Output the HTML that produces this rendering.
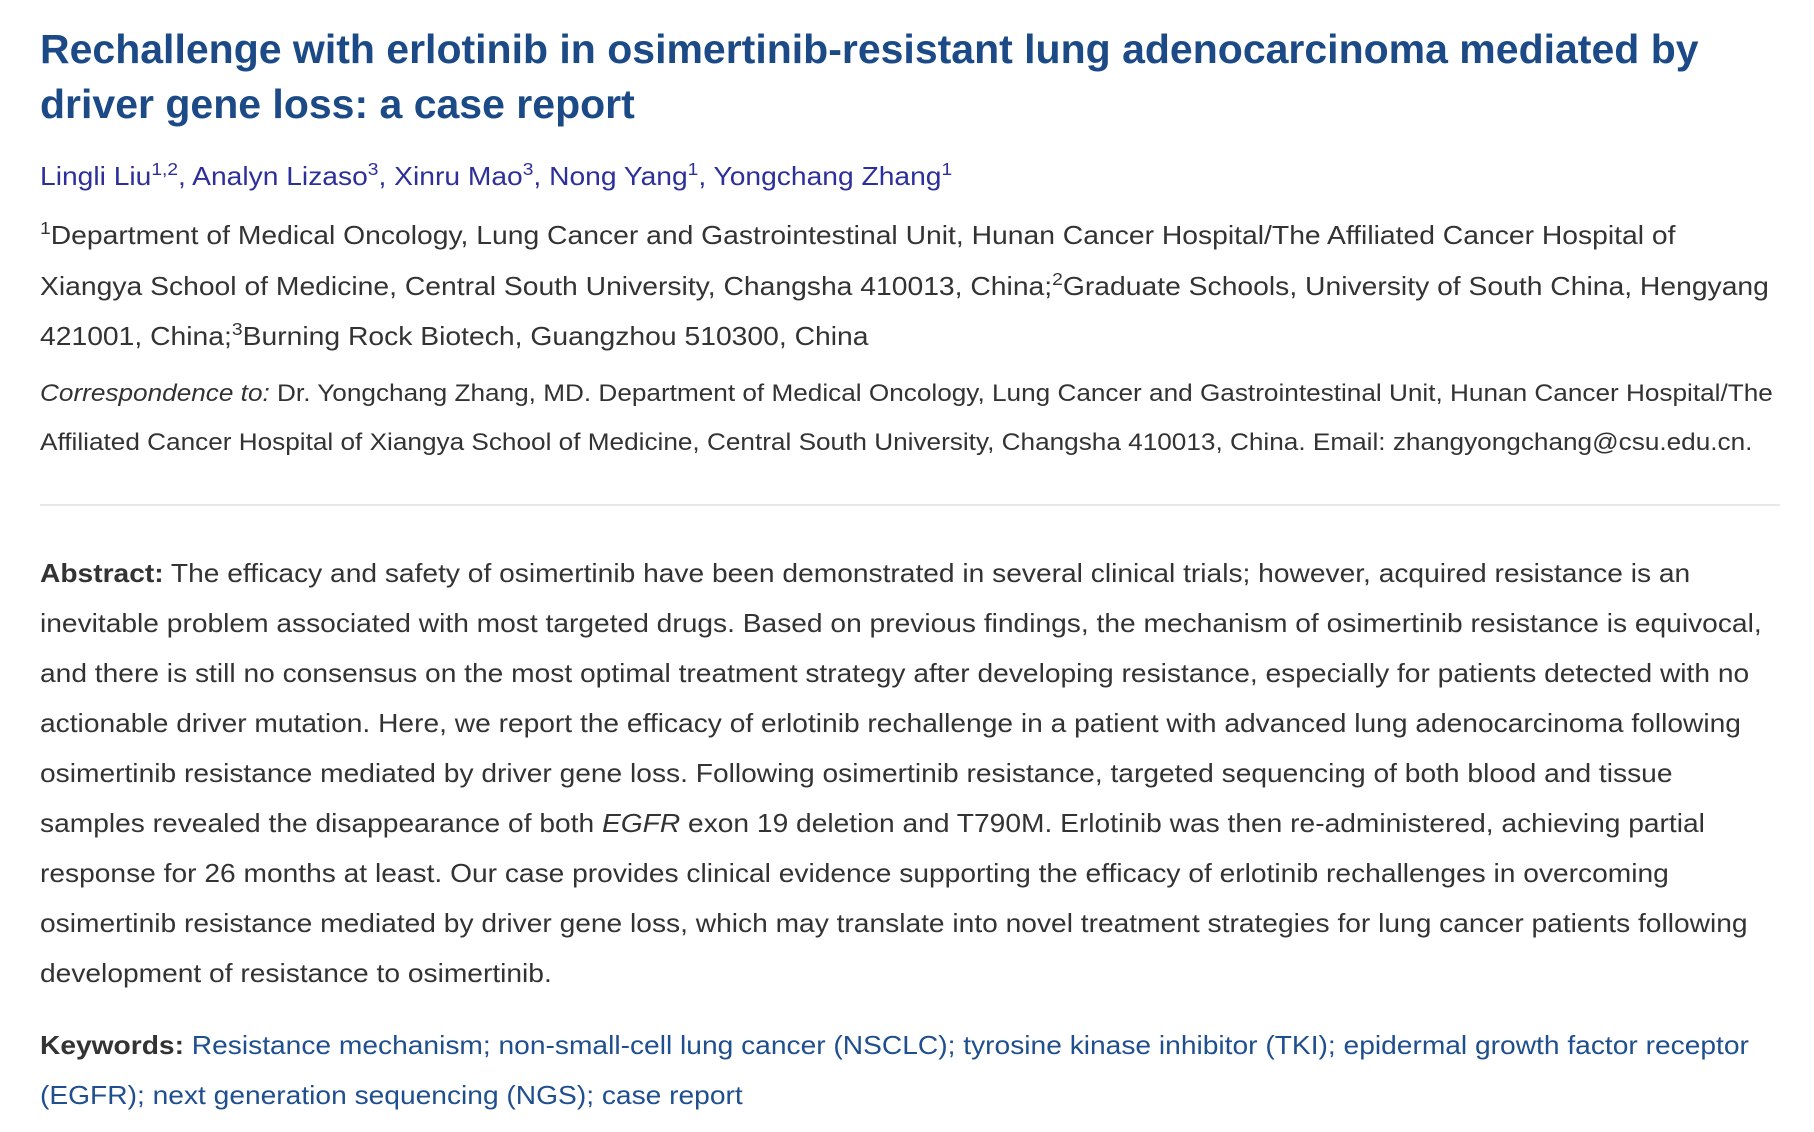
<!DOCTYPE html>
<html><head><meta charset="utf-8">
<style>
body{margin:0;width:1814px;height:1132px;background:#fff;position:relative;overflow:hidden;font-family:"Liberation Sans",Arial,sans-serif;color:#333}
.l{position:absolute;left:40px;white-space:nowrap;height:40px;line-height:40px;transform-origin:0 50%}
.t{font-weight:bold;color:#1b4a86;font-size:41px;line-height:50px;height:50px}
.a{color:#2d2f9a;font-size:26px;transform:scaleX(1.085)}
.f{font-size:26px;transform:scaleX(1.088)}
.c{font-size:24px;transform:scaleX(1.09)}
.b{font-size:26px;transform:scaleX(1.083)}
.k{color:#1f4f8e}
sup{font-size:0.68em;vertical-align:0;position:relative;top:-0.55em}
</style></head><body>
<div class="l t" style="top:24px">Rechallenge with erlotinib in osimertinib-resistant lung adenocarcinoma mediated by</div>
<div class="l t" style="top:79px">driver gene loss: a case report</div>
<div class="l a" style="top:156px"><span>Lingli Liu</span><sup>1,2</sup>, <span>Analyn Lizaso</span><sup>3</sup>, <span>Xinru Mao</span><sup>3</sup>, <span>Nong Yang</span><sup>1</sup>, <span>Yongchang Zhang</span><sup>1</sup></div>
<div>
<div class="l f" style="top:215px"><sup>1</sup>Department of Medical Oncology, Lung Cancer and Gastrointestinal Unit, Hunan Cancer Hospital/The Affiliated Cancer Hospital of</div>
<div class="l f" style="top:266px">Xiangya School of Medicine, Central South University, Changsha 410013, China;<sup>2</sup>Graduate Schools, University of South China, Hengyang</div>
<div class="l f" style="top:316px">421001, China;<sup>3</sup>Burning Rock Biotech, Guangzhou 510300, China</div>
</div>
<div>
<div class="l c" style="top:374px"><i>Correspondence to:</i> Dr. Yongchang Zhang, MD. Department of Medical Oncology, Lung Cancer and Gastrointestinal Unit, Hunan Cancer Hospital/The</div>
<div class="l c" style="top:423px">Affiliated Cancer Hospital of Xiangya School of Medicine, Central South University, Changsha 410013, China. Email: zhangyongchang@csu.edu.cn.</div>
</div>
<div style="position:absolute;left:40px;top:504px;width:1740px;height:2px;background:#e8e8e8"></div>
<div>
<div class="l b" style="top:553px"><b>Abstract:</b> The efficacy and safety of osimertinib have been demonstrated in several clinical trials; however, acquired resistance is an</div>
<div class="l b" style="top:603px">inevitable problem associated with most targeted drugs. Based on previous findings, the mechanism of osimertinib resistance is equivocal,</div>
<div class="l b" style="top:653px">and there is still no consensus on the most optimal treatment strategy after developing resistance, especially for patients detected with no</div>
<div class="l b" style="top:703px">actionable driver mutation. Here, we report the efficacy of erlotinib rechallenge in a patient with advanced lung adenocarcinoma following</div>
<div class="l b" style="top:753px">osimertinib resistance mediated by driver gene loss. Following osimertinib resistance, targeted sequencing of both blood and tissue</div>
<div class="l b" style="top:803px">samples revealed the disappearance of both <i>EGFR</i> exon 19 deletion and T790M. Erlotinib was then re-administered, achieving partial</div>
<div class="l b" style="top:853px">response for 26 months at least. Our case provides clinical evidence supporting the efficacy of erlotinib rechallenges in overcoming</div>
<div class="l b" style="top:903px">osimertinib resistance mediated by driver gene loss, which may translate into novel treatment strategies for lung cancer patients following</div>
<div class="l b" style="top:953px">development of resistance to osimertinib.</div>
</div>
<div>
<div class="l b" style="top:1025px"><b>Keywords:</b> <span class="k">Resistance mechanism; non-small-cell lung cancer (NSCLC); tyrosine kinase inhibitor (TKI); epidermal growth factor receptor</span></div>
<div class="l b k" style="top:1075px">(EGFR); next generation sequencing (NGS); case report</div>
</div>
</body></html>
